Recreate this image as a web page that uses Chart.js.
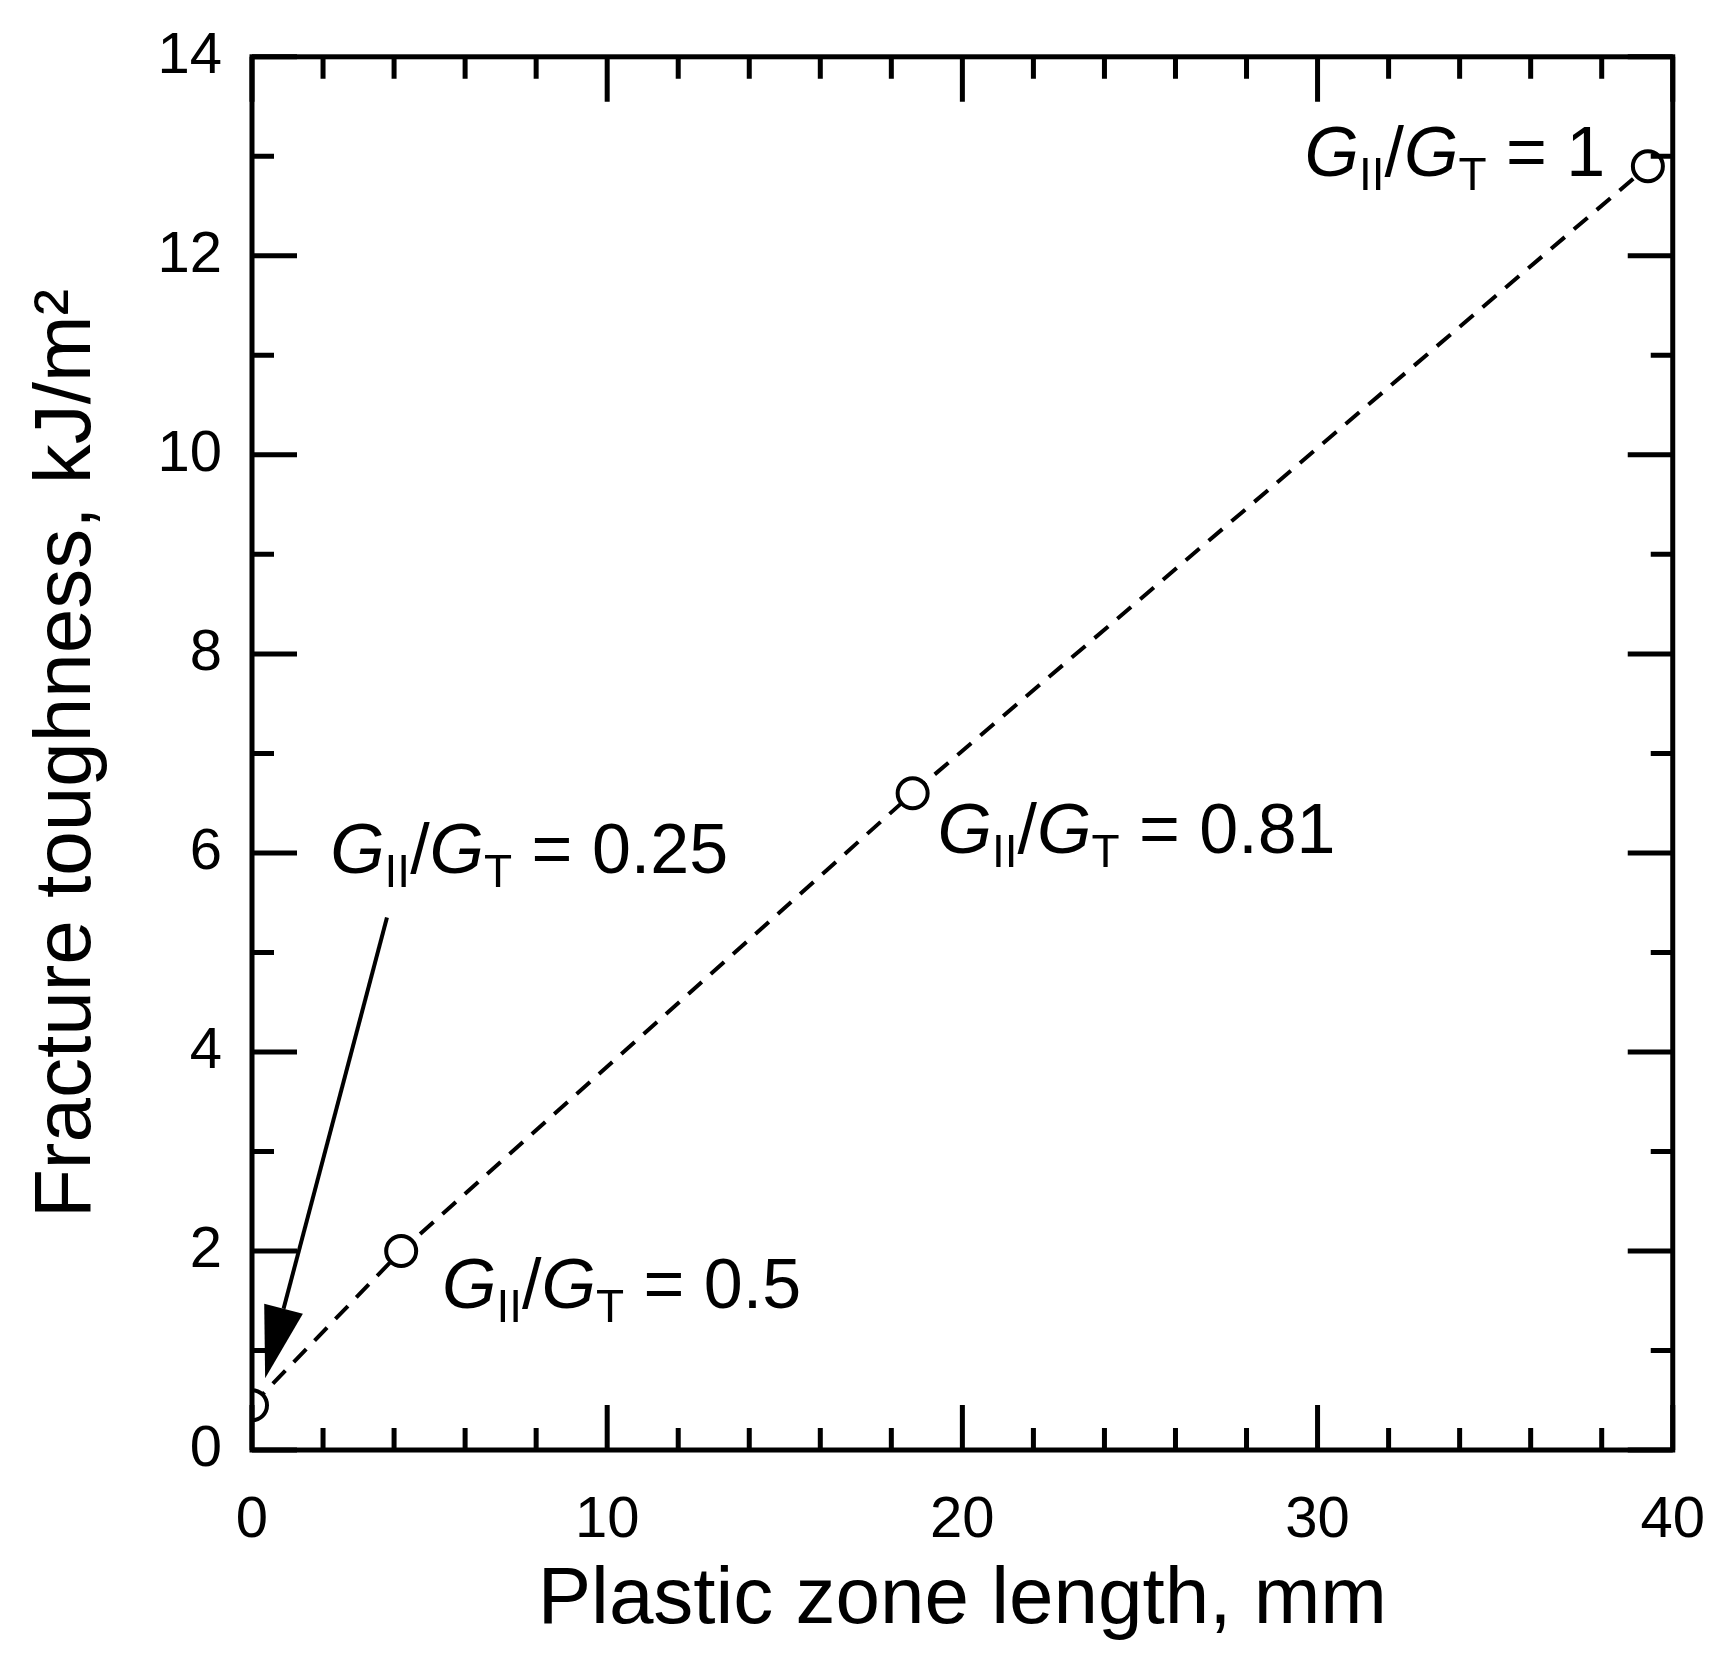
<!DOCTYPE html>
<html><head><meta charset="utf-8">
<script src="https://cdn.jsdelivr.net/npm/chart.js@4/dist/chart.umd.min.js"></script>
<style>html,body{margin:0;padding:0;background:#fff}#w{width:1733px;height:1669px}</style>
</head><body><div id="w"><canvas id="c"></canvas></div>
<script>
const xValues=[0,4.2,18.6,39.3];
const yValues=[0.45,2.0,6.6,12.9];
const xTicks=[0,10,20,30,40];
const yTicks=[0,2,4,6,8,10,12,14];
const labels=[
 {x:38.1,y:12.8,val:'1',align:'right'},
 {x:19.3,y:6.0,val:'0.81',align:'left'},
 {x:2.2,y:5.8,val:'0.25',align:'left'},
 {x:5.35,y:1.43,val:'0.5',align:'left'}
];
const arrowFrom={x:3.8,y:5.35}, arrowTo={x:0.37,y:0.72};
const F='"Liberation Sans", Arial, sans-serif';

function drawLabel(ctx,px,py,val,align){
  const big='70px '+F, small='46px '+F, ital='italic 70px '+F;
  const parts=[[ital,'G',0],[small,'II',14],['70px '+F,'/',0],[ital,'G',0],[small,'T',14],[big,' = '+val,0]];
  let w=0; parts.forEach(p=>{ctx.font=p[0];w+=ctx.measureText(p[1]).width;});
  let x=align==='right'?px-w:px;
  ctx.textAlign='left';ctx.textBaseline='alphabetic';ctx.fillStyle='#000';
  parts.forEach(p=>{ctx.font=p[0];ctx.fillText(p[1],x,py+p[2]);x+=ctx.measureText(p[1]).width;});
}

const deco={id:'deco',afterDraw(ch){
  const ctx=ch.ctx,xs=ch.scales.x,ys=ch.scales.y,a=ch.chartArea;
  ctx.save();ctx.strokeStyle='#000';ctx.lineWidth=5;
  ctx.strokeRect(a.left,a.top,a.right-a.left,a.bottom-a.top);
  ctx.lineWidth=5;ctx.beginPath();
  for(let v=0;v<=40;v+=2){const p=xs.getPixelForValue(v),L=v%10===0?45:22;
    ctx.moveTo(p,a.bottom);ctx.lineTo(p,a.bottom-L);ctx.moveTo(p,a.top);ctx.lineTo(p,a.top+L);}
  for(let v=0;v<=14;v+=1){const p=ys.getPixelForValue(v),L=v%2===0?45:22;
    ctx.moveTo(a.left,p);ctx.lineTo(a.left+L,p);ctx.moveTo(a.right,p);ctx.lineTo(a.right-L,p);}
  ctx.stroke();
  labels.forEach(l=>drawLabel(ctx,xs.getPixelForValue(l.x),ys.getPixelForValue(l.y),l.val,l.align));
  // arrow
  const x1=xs.getPixelForValue(arrowFrom.x),y1=ys.getPixelForValue(arrowFrom.y);
  const x2=xs.getPixelForValue(arrowTo.x),y2=ys.getPixelForValue(arrowTo.y);
  const ang=Math.atan2(y2-y1,x2-x1),hl=72,hw=20;
  const bx=x2-hl*Math.cos(ang),by=y2-hl*Math.sin(ang);
  ctx.lineWidth=4;ctx.beginPath();ctx.moveTo(x1,y1);ctx.lineTo(bx,by);ctx.stroke();
  ctx.fillStyle='#000';ctx.beginPath();ctx.moveTo(x2,y2);
  ctx.lineTo(bx+hw*Math.sin(ang),by-hw*Math.cos(ang));
  ctx.lineTo(bx-hw*Math.sin(ang),by+hw*Math.cos(ang));ctx.closePath();ctx.fill();
  ctx.restore();
}};

new Chart(document.getElementById('c'),{
  type:'scatter',
  data:{datasets:[{data:xValues.map((x,i)=>({x,y:yValues[i]})),showLine:true,
    borderColor:'#000',borderWidth:4,borderDash:[18,12],
    pointRadius:15,pointBorderWidth:4,pointBackgroundColor:'#fff',pointBorderColor:'#000'}]},
  options:{responsive:true,maintainAspectRatio:false,animation:false,devicePixelRatio:1,
    layout:{padding:{top:44,right:60,left:0,bottom:0}},
    plugins:{legend:{display:false},tooltip:{enabled:false}},
    scales:{
      x:{type:'linear',min:0,max:40,afterBuildTicks:s=>{s.ticks=xTicks.map(v=>({value:v}));},
        grid:{display:false},border:{display:false},
        ticks:{font:{size:58,family:F},color:'#000',padding:28,maxRotation:0},
        title:{display:true,text:'Plastic zone length, mm',font:{size:80,family:F},color:'#000',padding:{top:0,bottom:20}},
        afterFit:s=>{s.height=219;}},
      y:{type:'linear',min:0,max:14,afterBuildTicks:s=>{s.ticks=yTicks.map(v=>({value:v}));},
        grid:{display:false},border:{display:false},
        ticks:{font:{size:58,family:F},color:'#000',padding:22},
        title:{display:true,text:'Fracture toughness, kJ/m²',font:{size:80,family:F},color:'#000',padding:{top:20,bottom:0}},
        afterFit:s=>{s.width=252;}}
    }},
  plugins:[deco]
});
</script></body></html>
